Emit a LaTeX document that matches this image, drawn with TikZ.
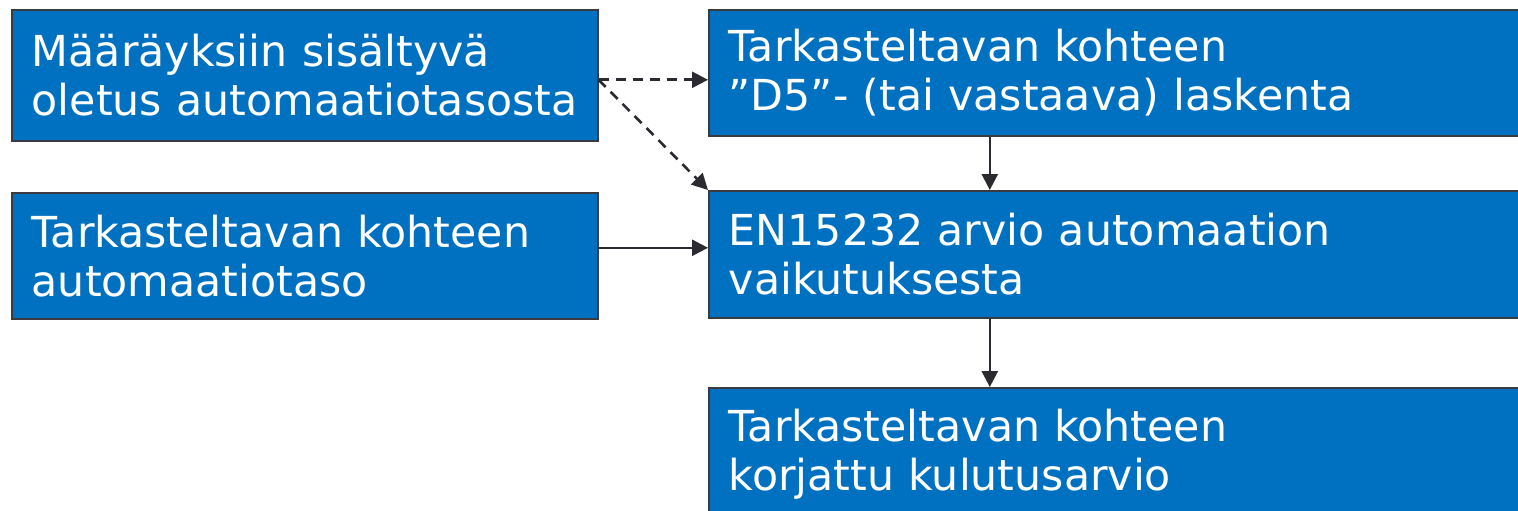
\documentclass[tikz,border=0pt]{standalone}
\usepackage{fontspec}
\setmainfont{DejaVu Sans}
\usetikzlibrary{arrows.meta}
\definecolor{boxblue}{HTML}{0070C0}
\definecolor{edgegray}{HTML}{3A3A40}
\definecolor{arrowdark}{HTML}{2A2A30}
\tikzset{
  box/.style={draw=edgegray, line width=1.6pt, fill=boxblue, text=white,
    inner xsep=20pt, inner ysep=0pt, align=left, anchor=north west,
    font=\fontsize{42.7pt}{49pt}\selectfont},
  conn/.style={draw=arrowdark, line width=2.6pt,
    -{Triangle[length=16pt,width=16pt]}},
  dconn/.style={conn, dash pattern=on 10pt off 7pt}
}
\begin{document}
\begin{tikzpicture}[x=1pt,y=-1pt]
\useasboundingbox (0,0) rectangle (1518,511);
\clip (0,0) rectangle (1518,511);
\node[box, minimum width=586pt, minimum height=131pt, text width=546pt] (A) at (11,9)
  {Määräyksiin sisältyvä\\oletus automaatiotasosta};
\node[box, minimum width=586pt, minimum height=126pt, text width=546pt] (B) at (11,192)
  {Tarkasteltavan kohteen\\automaatiotaso};
\node[box, minimum width=817pt, minimum height=126pt, text width=777pt] (C) at (708,9)
  {Tarkasteltavan kohteen\\”D5”- (tai vastaava) laskenta};
\node[box, minimum width=817pt, minimum height=127pt, text width=777pt] (D) at (708,190)
  {EN15232 arvio automaation\\vaikutuksesta};
\node[box, minimum width=817pt, minimum height=133pt, text width=777pt] (E) at (708,387)
  {Tarkasteltavan kohteen\\korjattu kulutusarvio};
\coordinate (as) at ([yshift=-4.5pt]A.east);
\draw[dconn] (as) -- (as -| C.west);
\draw[dconn] (as) -- (D.north west);
\coordinate (bs) at ([yshift=8pt]B.east);
\draw[conn] (bs) -- (bs -| D.west);
\draw[conn] ([xshift=-127.5pt]C.south) -- ([xshift=-127.5pt]D.north);
\draw[conn] ([xshift=-127.5pt]D.south) -- ([xshift=-127.5pt]E.north);
\end{tikzpicture}
\end{document}
